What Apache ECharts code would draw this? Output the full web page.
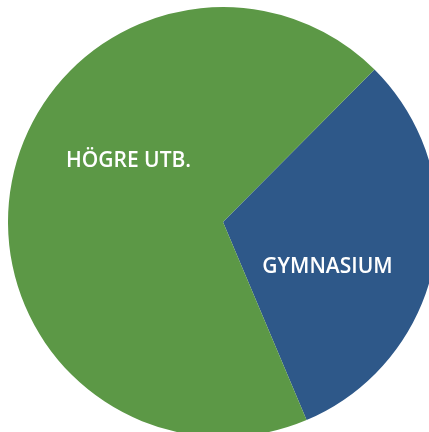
<!DOCTYPE html>
<html>
<head>
<meta charset="utf-8">
<script src="https://cdn.jsdelivr.net/npm/echarts@6/dist/echarts.min.js"></script>
<style>
  html, body { margin: 0; padding: 0; background: #fff; }
  #chart { width: 429px; height: 432px; }
</style>
</head>
<body>
<div id="chart"></div>
<script>
  // utbildningsnivå
  const categories = ['GYMNASIUM', 'HÖGRE UTB.']
  const values = [31.2, 68.8]
  const colors = ['#2e5889', '#5c9846']
  // flytta etiketterna lite från standardläget
  const labelShift = [[-4, 24], [14, -40]]

  const chart = echarts.init(document.getElementById('chart'))
  chart.setOption({
    animation: false,
    series: [
      {
        type: 'pie',
        center: [223, 222],
        radius: 215,
        startAngle: 45.2,
        clockwise: true,
        data: categories.map((name, i) => ({
          name: name,
          value: values[i],
          itemStyle: { color: colors[i] }
        })),
        label: {
          show: true,
          position: 'inside',
          formatter: '{b}',
          color: '#fff',
          fontFamily: 'Open Sans',
          fontWeight: 600,
          fontSize: 21
        },
        labelLine: { show: false },
        labelLayout: params => ({
          dx: labelShift[params.dataIndex][0],
          dy: labelShift[params.dataIndex][1]
        }),
        emphasis: { disabled: true }
      }
    ]
  })
</script>
</body>
</html>
